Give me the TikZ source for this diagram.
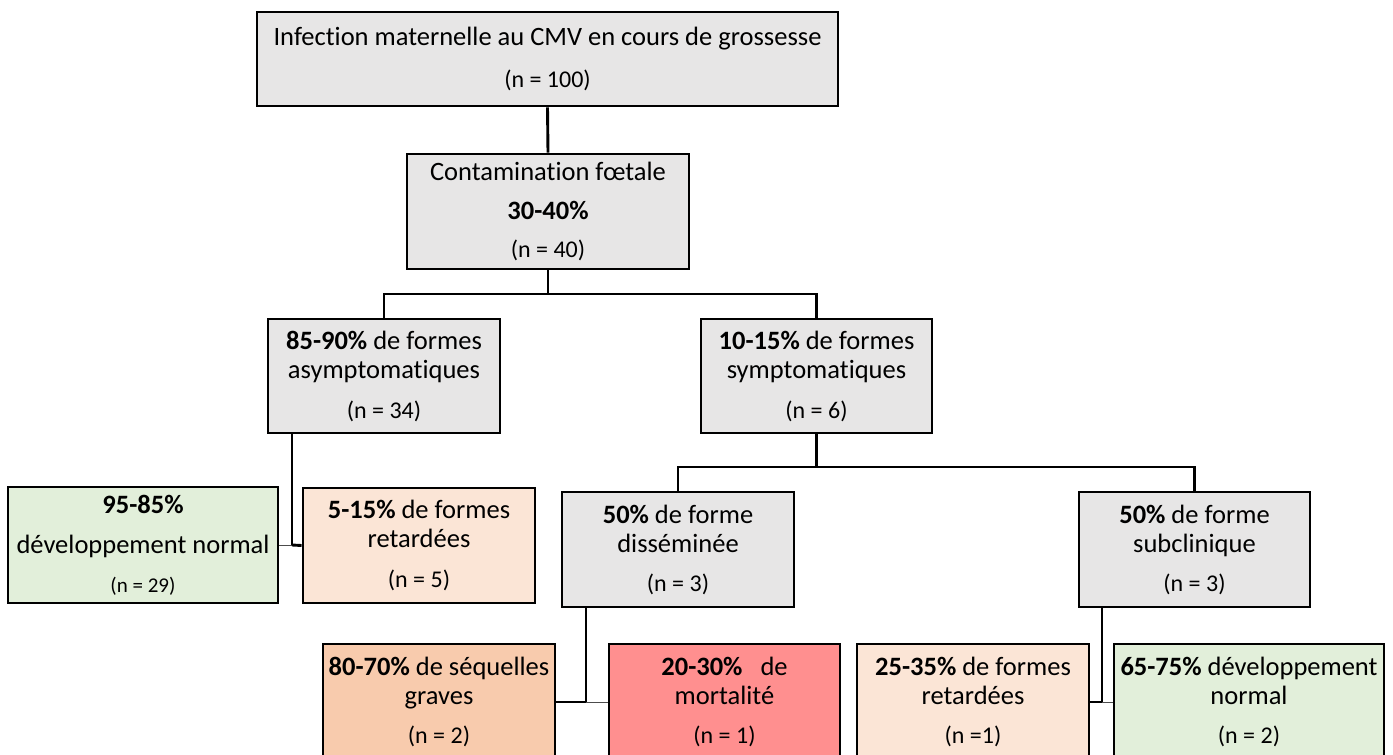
\documentclass[tikz,border=0pt]{standalone}
\usepackage{fontspec}
\setmainfont{Carlito}[Ligatures=NoCommon]
\definecolor{boxgrey}{HTML}{E7E6E6}
\definecolor{boxgreen}{HTML}{E2EFDA}
\definecolor{boxpeach}{HTML}{FBE5D6}
\definecolor{boxorange}{HTML}{F8CBAD}
\definecolor{boxred}{HTML}{FF8F8F}
\newcommand\mainsz{\fontsize{26.5}{29}\selectfont}
\newcommand\nsz{\fontsize{24}{29}\selectfont}
\newcommand\smallnsz{\fontsize{21}{29}\selectfont}
\newcommand\tiX{t\kern0pt i}
\begin{document}
\begin{tikzpicture}[x=1pt,y=-1pt,
  box/.style={draw=black, line width=2.9pt, inner sep=0pt, align=center, font=\mainsz},
  greybox/.style={box, fill=boxgrey},
  greenbox/.style={box, fill=boxgreen},
  peachbox/.style={box, fill=boxpeach},
  orangebox/.style={box, fill=boxorange},
  redbox/.style={box, fill=boxred},
  conn/.style={draw=black, line width=2.9pt},
  thinconn/.style={draw=black!70, line width=1pt}]
\useasboundingbox (0,0) rectangle (1393,755);
\clip (0,0) rectangle (1393,755);
\fill[white] (0,0) rectangle (1393,755);

\node[greybox, minimum width=581pt, minimum height=94pt] (top) at (547.5,59)
  {Infec\tiX on maternelle au CMV en cours de grossesse\\[13pt]{\nsz (n = 100)}};
\node[greybox, minimum width=282pt, minimum height=115pt] (fet) at (548,211.5)
  {Contamina\tiX on fœtale\\[9.5pt]\textbf{30-40\%}\\[9.5pt]{\nsz (n = 40)}};
\node[greybox, minimum width=232pt, minimum height=114pt] (asym) at (384,376)
  {\textbf{85-90\%} de formes\\asymptoma\tiX ques\\[11pt]{\nsz (n = 34)}};
\node[greybox, minimum width=231pt, minimum height=114pt] (sym) at (816.5,376)
  {\textbf{10-15\%} de formes\\symptoma\tiX ques\\[11pt]{\nsz (n = 6)}};
\node[greenbox, minimum width=270pt, minimum height=116pt] (dnA) at (143,545)
  {\textbf{95-85\%}\\[11pt]développement normal\\[10pt]{\smallnsz (n = 29)}};
\node[peachbox, minimum width=232pt, minimum height=115pt] (retA) at (419,545.5)
  {\textbf{5-15\%} de formes\\retardées\\[11pt]{\nsz (n = 5)}};
\node[greybox, minimum width=232pt, minimum height=115pt] (diss) at (678,549.5)
  {\textbf{50\%} de forme\\disséminée\\[10pt]{\nsz (n = 3)}};
\node[greybox, minimum width=231pt, minimum height=115pt] (subc) at (1194.5,549.5)
  {\textbf{50\%} de forme\\subclinique\\[10pt]{\nsz (n = 3)}};
\node[orangebox, minimum width=232pt, minimum height=116pt] (seq) at (439,702)
  {\textbf{80-70\%} de séquelles\\graves\\[10pt]{\nsz (n = 2)}};
\node[redbox, minimum width=231pt, minimum height=116pt] (mort) at (724.5,702)
  {\textbf{20-30\%}\ \ \ de\\mortalité\\[10pt]{\nsz (n = 1)}};
\node[peachbox, minimum width=232pt, minimum height=116pt] (retB) at (973,702)
  {\textbf{25-35\%} de formes\\retardées\\[10pt]{\nsz (n =1)}};
\node[greenbox, minimum width=270pt, minimum height=116pt] (dnB) at (1249,702)
  {\textbf{65-75\%} développement\\normal\\[10pt]{\nsz (n = 2)}};

\coordinate (j1) at (548,294);
\coordinate (j2) at (816.5,467);
\coordinate (k1) at (292,545);
\coordinate (k2) at (586,702);
\coordinate (k3) at (1102,702);

\draw[conn] (top.south) -- (fet.north);
\draw[conn] (fet.south) -- (j1);
\draw[conn] (asym.north) |- (j1) -| (sym.north);
\draw[conn] (asym.south -| k1) -- (k1);
\draw[thinconn] (dnA.east) -- (k1);
\draw[conn] (k1) -- (retA.west);
\draw[conn] (sym.south) -- (j2);
\draw[conn] (diss.north) |- (j2) -| (subc.north);
\draw[conn] (diss.south -| k2) -- (k2);
\draw[conn] (seq.east) -- (k2);
\draw[thinconn] (k2) -- (mort.west);
\draw[conn] (subc.south -| k3) -- (k3);
\draw[conn] (retB.east) -- (k3);
\draw[thinconn] (k3) -- (dnB.west);
\end{tikzpicture}
\end{document}
